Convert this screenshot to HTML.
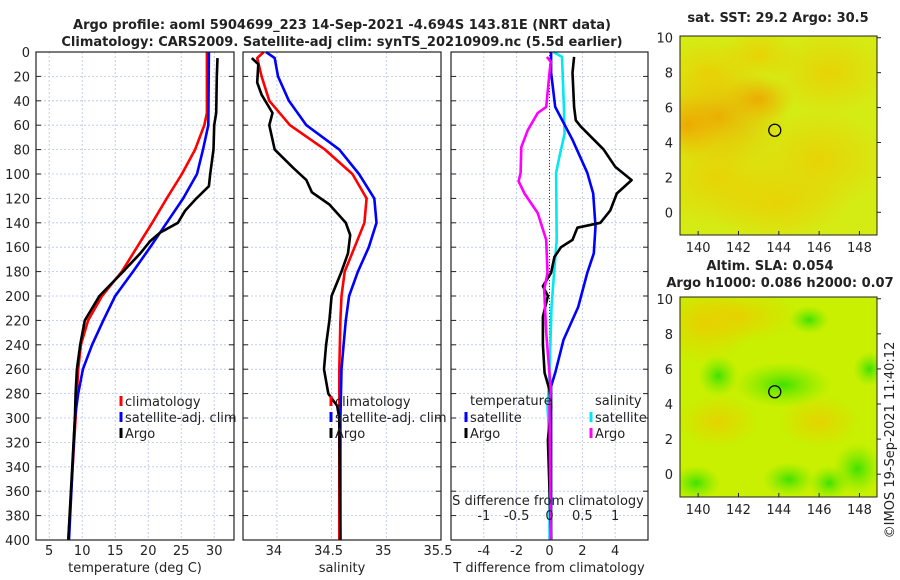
<!DOCTYPE html>
<html><head><meta charset="utf-8">
<style>
body{margin:0;background:#fff;}
svg{display:block;font-family:"DejaVu Sans","Liberation Sans",sans-serif;}
</style></head>
<body>
<svg id="fig" width="900" height="580" viewBox="0 0 900 580">
<defs>
<radialGradient id="o1" cx="0.5" cy="0.5" r="0.5"><stop offset="0" stop-color="#f0a000" stop-opacity="0.8"/><stop offset="1" stop-color="#f0b000" stop-opacity="0"/></radialGradient>
<radialGradient id="y1" cx="0.5" cy="0.5" r="0.5"><stop offset="0" stop-color="#f0c800" stop-opacity="0.7"/><stop offset="1" stop-color="#f0c800" stop-opacity="0"/></radialGradient>
<radialGradient id="g1" cx="0.5" cy="0.5" r="0.5"><stop offset="0" stop-color="#30e000" stop-opacity="0.9"/><stop offset="1" stop-color="#70e800" stop-opacity="0"/></radialGradient>
</defs>
</svg>
<script>
// ---------- data ----------
var depthTicks=[0,20,40,60,80,100,120,140,160,180,200,220,240,260,280,300,320,340,360,380,400];
var tempTicks=[5,10,15,20,25,30];
var salTicks=[34,34.5,35,35.5];
var tdiffTicks=[-4,-2,0,2,4];
var sdiffTicks=[-1,-0.5,0,0.5,1];
var climTDepth=[0,50,60,80,100,120,140,160,180,200,220,240,260,280,300,400];
var climT=[28.9,28.9,28.5,27.1,25.1,22.8,20.6,18.3,16.0,13.0,10.9,9.8,9.4,9.2,9.0,7.9];
var satTDepth=[0,60,80,100,120,140,160,180,200,220,240,260,280,300,400];
var satT=[29.2,29.1,28.3,27.4,25.3,22.8,20.3,17.7,15.0,13.2,11.5,10.1,9.4,8.9,8.0];
var argoTDepth=[5,20,50,60,80,100,110,120,130,140,148,155,165,180,200,220,240,260,280,300,400];
var argoT=[30.5,30.4,30.3,30.0,29.9,29.4,29.2,27.3,25.6,24.5,21.8,20.3,18.8,16.2,12.6,10.4,9.7,9.2,9.0,8.9,7.9];
var climSDepth=[0,5,20,40,60,80,100,120,140,160,180,200,220,260,300,400];
var climS=[33.88,33.82,33.86,33.93,34.12,34.44,34.69,34.82,34.80,34.71,34.62,34.59,34.58,34.57,34.57,34.57];
var satSDepth=[0,5,20,40,60,80,100,120,140,160,180,200,220,240,260,300,400];
var satS=[33.90,33.98,34.01,34.11,34.27,34.57,34.75,34.89,34.91,34.84,34.74,34.66,34.63,34.61,34.59,34.58,34.58];
var argoSDepth=[5,10,25,35,50,60,80,95,105,115,125,140,150,165,180,200,220,240,260,280,290,300,400];
var argoS=[33.77,33.83,33.82,33.86,33.96,33.93,33.98,34.15,34.27,34.32,34.48,34.63,34.67,34.65,34.59,34.50,34.48,34.45,34.43,34.47,34.55,34.57,34.58];
var dSatTDepth=[0,17,45,72,99,116,143,165,181,209,236,263,274,400];
var dSatT=[0.1,0.1,0.35,1.4,2.3,2.66,2.8,2.7,2.3,1.75,0.85,0.35,0.1,0.1];
var dArgoTDepth=[4,17,45,56,61,80,94,105,116,130,140,144,154,160,168,181,192,200,217,240,263,277,291,318,400];
var dArgoT=[1.5,1.4,1.5,1.6,1.9,3.3,4.0,5.0,4.1,3.7,3.1,1.7,1.4,0.7,0.3,0.1,-0.4,-0.1,-0.4,-0.4,-0.3,0,0.1,-0.1,0.1];
var dSatSDepth=[0,4,45,67,86,99,154,181,209,263,291,320,400];
var dSatS=[0.06,0.19,0.22,0.23,0.15,0.1,0.11,0.07,0.03,0,-0.03,0,0];
var dArgoSDepth=[4,8,17,45,50,64,78,99,106,116,132,154,181,195,230,277,291,400];
var dArgoS=[-0.04,0.02,0.0,-0.05,-0.18,-0.33,-0.43,-0.44,-0.47,-0.38,-0.18,-0.05,-0.03,-0.08,-0.05,0.02,0,0.02];
var mapXTicks=[140,142,144,146,148];
var mapYTicks=[0,2,4,6,8,10];
var argoLon=[143.8], argoLat=[4.7];

// ---------- helpers ----------
var NS="http://www.w3.org/2000/svg", svg=document.getElementById('fig');
function mk(tag,attrs,parent){var e=document.createElementNS(NS,tag);for(var k in attrs)e.setAttribute(k,attrs[k]);(parent||svg).appendChild(e);return e;}
var Y0=52,Y1=540;
function yD(d){return Y0+d*(Y1-Y0)/400;}
function lin(a,b,p,q){return function(v){return p+(v-a)*(q-p)/(b-a);};}
var P1={x0:36,x1:234,sx:lin(3,33,36,234)};
var P2={x0:243,x1:441,sx:lin(33.69,35.5,243,441)};
var P3={x0:451,x1:648,sx:lin(-6,6,451,648)};
var sxS=lin(-1.5,1.5,451,648);

function text(x,y,s,anchor,size,weight,name){
  var t=mk('text',{x:x,y:y,'text-anchor':anchor||'middle','font-size':size||13,'font-weight':weight||'normal',fill:'#222'});
  t.textContent=s;
  
  
  return t;
}
function panelFrame(P,name){
  var g=mk('g',{});
  
  
  depthTicks.forEach(function(d){
    var l=mk('line',{x1:P.x0,x2:P.x1,y1:yD(d),y2:yD(d),stroke:'#b8c0e8','stroke-width':0.8,'stroke-dasharray':'2,2'},g);
    
    
    var t1=mk('line',{x1:P.x0,x2:P.x0+5,y1:yD(d),y2:yD(d),stroke:'#222'},g);
    
    var t2=mk('line',{x1:P.x1-5,x2:P.x1,y1:yD(d),y2:yD(d),stroke:'#222'},g);
    
  });
  return g;
}
function vgrid(P,ticks,sx,g){
  ticks.forEach(function(v){
    var x=sx(v);
    var l=mk('line',{x1:x,x2:x,y1:Y0,y2:Y1,stroke:'#b8c0e8','stroke-width':0.8,'stroke-dasharray':'2,2'},g);
    
    
  });
}
function border(P,name){
  var r=mk('rect',{x:P.x0,y:Y0,width:P.x1-P.x0,height:Y1-Y0,fill:'none',stroke:'#222','stroke-width':1.2});
  
  
}
function series(depths,vals,sx,color,name,w){
  var pts=depths.map(function(d,i){return sx(vals[i]).toFixed(1)+','+yD(d).toFixed(1);}).join(' ');
  var p=mk('polyline',{points:pts,fill:'none',stroke:color,'stroke-width':w||2.6,'stroke-linejoin':'round'});
  
  
}
function legend(x,y,color,label,name){
  var m=mk('line',{x1:x,x2:x,y1:y-10,y2:y,stroke:color,'stroke-width':3});
  
  
  text(x+4,y,label,'start',13,'normal',name);
}

// ---------- titles ----------
text(342,29,'Argo profile: aoml 5904699_223 14-Sep-2021 -4.694S 143.81E (NRT data)','middle',13,'bold','main-title-line1');
text(342,46,'Climatology: CARS2009. Satellite-adj clim: synTS_20210909.nc (5.5d earlier)','middle',13,'bold','main-title-line2');

// ---------- panel 1 temperature ----------
var g1=panelFrame(P1,'temperature-panel');
vgrid(P1,tempTicks,P1.sx,g1);
depthTicks.forEach(function(d){text(30,yD(d)+5,String(d),'end',13,'normal','depth-tick-label');});
tempTicks.forEach(function(v){text(P1.sx(v),555,String(v),'middle',13,'normal','temp-tick-label');});
text(135,572,'temperature (deg C)','middle',13,'normal','temperature-axis-title');
series(climTDepth,climT,P1.sx,'#f00','climatology-temp-line');
series(satTDepth,satT,P1.sx,'#00f','satellite-temp-line');
series(argoTDepth,argoT,P1.sx,'#000','argo-temp-line');
border(P1,'temperature-panel-border');
legend(121,406,'#f00','climatology','legend-climatology');
legend(121,422,'#00f','satellite-adj. clim','legend-satellite');
legend(121,438,'#000','Argo','legend-argo');

// ---------- panel 2 salinity ----------
var g2=panelFrame(P2,'salinity-panel');
vgrid(P2,salTicks,P2.sx,g2);
salTicks.forEach(function(v){text(P2.sx(v)-3,555,String(v),'middle',13,'normal','sal-tick-label');});
text(342,572,'salinity','middle',13,'normal','salinity-axis-title');
series(climSDepth,climS,P2.sx,'#f00','climatology-sal-line');
series(satSDepth,satS,P2.sx,'#00f','satellite-sal-line');
series(argoSDepth,argoS,P2.sx,'#000','argo-sal-line');
border(P2,'salinity-panel-border');
legend(331,406,'#f00','climatology','legend-climatology-sal');
legend(331,422,'#00f','satellite-adj. clim','legend-satellite-sal');
legend(331,438,'#000','Argo','legend-argo-sal');

// ---------- panel 3 differences ----------
var g3=panelFrame(P3,'difference-panel');
vgrid(P3,tdiffTicks,P3.sx,g3);
tdiffTicks.forEach(function(v){text(P3.sx(v),555,String(v),'middle',13,'normal','tdiff-tick-label');});
text(549,572,'T difference from climatology','middle',13,'normal','tdiff-axis-title');
var z=mk('line',{x1:P3.sx(0),x2:P3.sx(0),y1:Y0,y2:Y1,stroke:'#333','stroke-width':1,'stroke-dasharray':'1,2'});


series(dSatSDepth,dSatS,sxS,'#00e8f0','sat-sal-diff-line');
series(dSatTDepth,dSatT,P3.sx,'#00f','sat-temp-diff-line');
series(dArgoTDepth,dArgoT,P3.sx,'#000','argo-temp-diff-line');
series(dArgoSDepth,dArgoS,sxS,'#f0f','argo-sal-diff-line');
text(548,505,'S difference from climatology','middle',13,'normal','sdiff-axis-title');
sdiffTicks.forEach(function(v){text(sxS(v),520,String(v),'middle',13,'normal','sdiff-tick-label');});
border(P3,'difference-panel-border');
text(470,405,'temperature','start',13,'normal','legend-temperature-heading');
legend(466,422,'#00f','satellite','legend-temp-satellite');
legend(466,438,'#000','Argo','legend-temp-argo');
text(595,405,'salinity','start',13,'normal','legend-salinity-heading');
legend(591,422,'#00e8f0','satellite','legend-sal-satellite');
legend(591,438,'#f0f','Argo','legend-sal-argo');

// ---------- maps ----------
var mx=lin(139.1,148.87,680,877);
function drawMap(top,bottom,name,blobs,base){
  var my=lin(-1.3,10.1,bottom,top);
  var g=mk('g',{});
  
  
  var cp=mk('clipPath',{id:name+'-clip'},g);
  mk('rect',{x:680,y:top,width:197,height:bottom-top},cp);
  var inner=mk('g',{'clip-path':'url(#'+name+'-clip)'},g);
  var r=mk('rect',{x:680,y:top,width:197,height:bottom-top,fill:base},inner);
  
  blobs.forEach(function(b){
    var e=mk('ellipse',{cx:mx(b[0]),cy:my(b[1]),rx:b[2]*20.2,ry:b[3]*17.4,fill:'url(#'+b[4]+')'},inner);
    
    
  });
  var bd=mk('rect',{x:680,y:top,width:197,height:bottom-top,fill:'none',stroke:'#222','stroke-width':1},g);
  
  mapXTicks.forEach(function(v){
    text(mx(v),bottom+17,String(v),'middle',13,'normal','map-lon-label');
    var t=mk('line',{x1:mx(v),x2:mx(v),y1:bottom,y2:bottom-4,stroke:'#222'},g);
    
  });
  mapYTicks.forEach(function(v){
    text(673,my(v)+5,String(v),'end',13,'normal','map-lat-label');
    var t=mk('line',{x1:877,x2:881,y1:my(v),y2:my(v),stroke:'#222'},g);
    
  });
  for(var i=0;i<argoLon.length;i++){
    var c=mk('circle',{cx:mx(argoLon[i]),cy:my(argoLat[i]),r:6,fill:'none',stroke:'#000','stroke-width':1.3},g);
    
    
  }
}
drawMap(36,235,'sst-map',[
  [141,5.5,3.5,3,'o1'],[139.5,5,1.8,1.8,'o1'],[143,6.5,1.8,1.4,'o1'],[140.5,8,2.5,2,'y1'],
  [141,2,3.5,3,'y1'],[146,3,3.5,3,'y1'],[144,0.5,3.5,2.2,'y1'],[146.5,8,3,2.5,'y1'],[143,9,2,1.5,'y1']
],'#d4ec14');
text(778,22,'sat. SST: 29.2 Argo: 30.5','middle',13,'bold','sst-map-title');
drawMap(297,497,'sla-map',[
  [140.3,8.5,2.5,2.2,'y1'],[142,9,3,1.5,'y1'],[146,3,2,1.5,'y1'],[141,3,2,1.5,'y1'],
  [144.2,5.1,2.4,1.3,'g1'],[141,5.6,1,1.2,'g1'],[147.9,0.3,1.2,1.5,'g1'],
  [139.9,-0.5,1.2,1,'g1'],[144.5,-0.3,1.3,1,'g1'],[146.5,-0.5,1,1,'g1'],[145.5,8.8,1,0.8,'g1'],[148.5,6,0.8,1,'g1']
],'#c8f000');
text(770,270,'Altim. SLA: 0.054','middle',13,'bold','sla-map-title-line1');
text(780,287,'Argo h1000: 0.086 h2000: 0.07','middle',13,'bold','sla-map-title-line2');

var cr=text(0,0,'©IMOS 19-Sep-2021 11:40:12','middle',13,'normal','imos-timestamp');
cr.setAttribute('transform','translate(894,440) rotate(-90)');
</script>
</body></html>
